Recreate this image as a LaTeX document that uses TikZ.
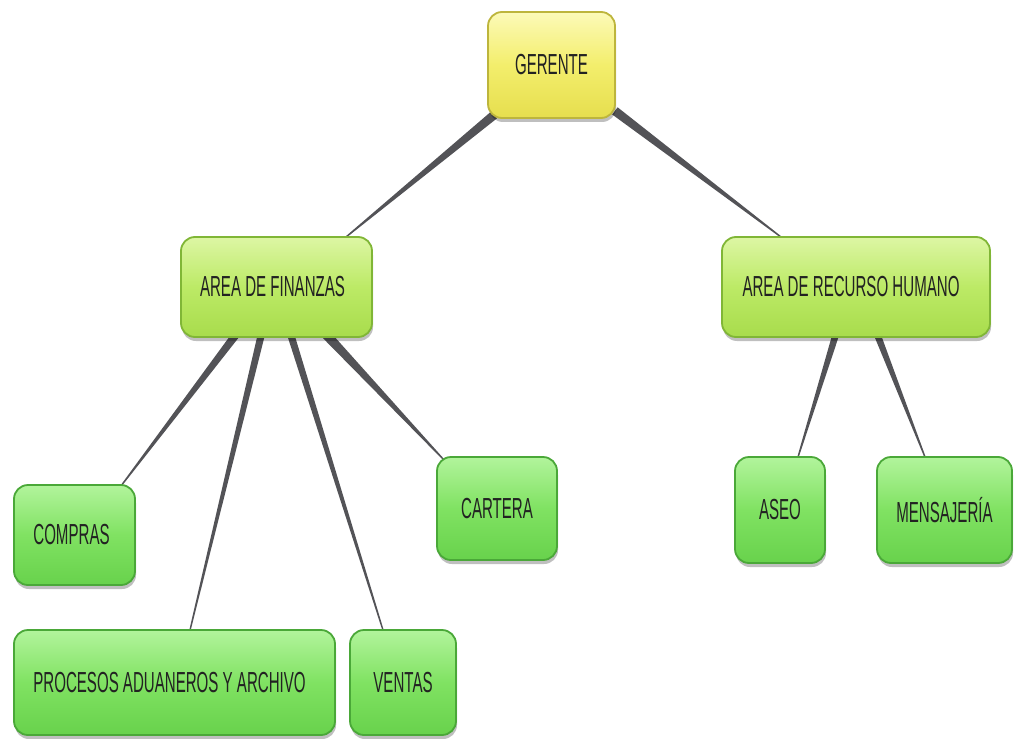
\documentclass[tikz,border=0pt]{standalone}
\usepackage{fontspec}
\setmainfont{Liberation Sans}[FakeStretch=0.52]
\usetikzlibrary{calc,shadows,backgrounds}
\definecolor{linkc}{HTML}{535357}
\definecolor{txtc}{HTML}{222222}
\definecolor{yTop}{HTML}{FCFAB8}
\definecolor{yMid}{HTML}{F3EE6C}
\definecolor{yBot}{HTML}{E6DE4E}
\definecolor{yBd}{HTML}{BDB53C}
\definecolor{aTop}{HTML}{DDF6A4}
\definecolor{aMid}{HTML}{BCEA66}
\definecolor{aBot}{HTML}{A8DC4C}
\definecolor{aBd}{HTML}{80B636}
\definecolor{lTop}{HTML}{B2F49C}
\definecolor{lMid}{HTML}{80E262}
\definecolor{lBot}{HTML}{68D24C}
\definecolor{lBd}{HTML}{4AA838}
\tikzset{
  box/.style={rectangle, rounded corners=14pt, line width=1.8pt, inner sep=0pt,
    text=txtc, font=\fontsize{29}{30}\selectfont, align=center,
    drop shadow={shadow xshift=1pt, shadow yshift=-4pt, fill=black, opacity=0.25}},
  boss/.style={box, draw=yBd, top color=yTop, bottom color=yBot, middle color=yMid},
  area/.style={box, draw=aBd, top color=aTop, bottom color=aBot, middle color=aMid},
  leaf/.style={box, draw=lBd, top color=lTop, bottom color=lBot, middle color=lMid},
}
\newcommand\conn[3]{%
  \fill[linkc] ($(#1)!#3!90:(#2)$) -- ($(#1)!#3!-90:(#2)$) -- ($(#2)!0.7pt!90:(#1)$) -- ($(#2)!0.7pt!-90:(#1)$) -- cycle;}
\begin{document}
\begin{tikzpicture}[x=1pt,y=-1pt]
\useasboundingbox (0,0) rectangle (1016,738);
% nodes
\node[boss, minimum width=127pt, minimum height=106pt] (ger) at (551.5,65) {GERENTE};
\node[area, minimum width=191pt, minimum height=100pt] (fin) at (276.5,287) {AREA DE FINANZAS\hspace*{8pt}};
\node[area, minimum width=268pt, minimum height=100pt] (rrhh) at (856,287) {AREA DE RECURSO HUMANO\hspace*{10pt}};
\node[leaf, minimum width=121pt, minimum height=100pt] (comp) at (74.5,535) {COMPRAS\hspace*{6pt}};
\node[leaf, minimum width=120pt, minimum height=103pt] (cart) at (497,508.5) {CARTERA};
\node[leaf, minimum width=90pt, minimum height=106pt] (aseo) at (780,510) {ASEO};
\node[leaf, minimum width=135pt, minimum height=106pt] (mens) at (944.5,510) {MENSAJERÍA};
\node[leaf, minimum width=321pt, minimum height=105pt] (proc) at (174.5,682.5) {PROCESOS ADUANEROS Y ARCHIVO\hspace*{10pt}};
\node[leaf, minimum width=106pt, minimum height=105pt] (vent) at (403,682.5) {VENTAS};
% anchor points for connectors
\coordinate (g1) at ($(ger.south west)+(7,-4)$);
\coordinate (g2) at ($(ger.south east)+(-1,-8)$);
\coordinate (fT) at ($(fin.north east)+(-27,1)$);
\coordinate (rT) at ($(rrhh.north west)+(60,1)$);
\coordinate (f1) at ($(fin.south)+(-40,-4)$);
\coordinate (f2) at ($(fin.south)+(-15,-4)$);
\coordinate (f3) at ($(fin.south)+(14,-4)$);
\coordinate (f4) at ($(fin.south)+(49,-4)$);
\coordinate (r1) at ($(rrhh.south)+(-20,-4)$);
\coordinate (r2) at ($(rrhh.south)+(21,-4)$);
\coordinate (cT) at ($(comp.north east)+(-15,2)$);
\coordinate (pT) at ($(proc.north)+(15.5,1)$);
\coordinate (vT) at ($(vent.north)+(-20,1)$);
\coordinate (kT) at ($(cart.north west)+(8,4)$);
\coordinate (aT) at ($(aseo.north)+(18,1)$);
\coordinate (mT) at ($(mens.north)+(-19.5,1)$);
\begin{scope}[on background layer]
\conn{g1}{fT}{4.5pt}
\conn{g2}{rT}{4.5pt}
\conn{f1}{cT}{4pt}
\conn{f2}{pT}{3.6pt}
\conn{f3}{vT}{3.6pt}
\conn{f4}{kT}{4.8pt}
\conn{r1}{aT}{3.4pt}
\conn{r2}{mT}{3.4pt}
\end{scope}
\end{tikzpicture}
\end{document}
